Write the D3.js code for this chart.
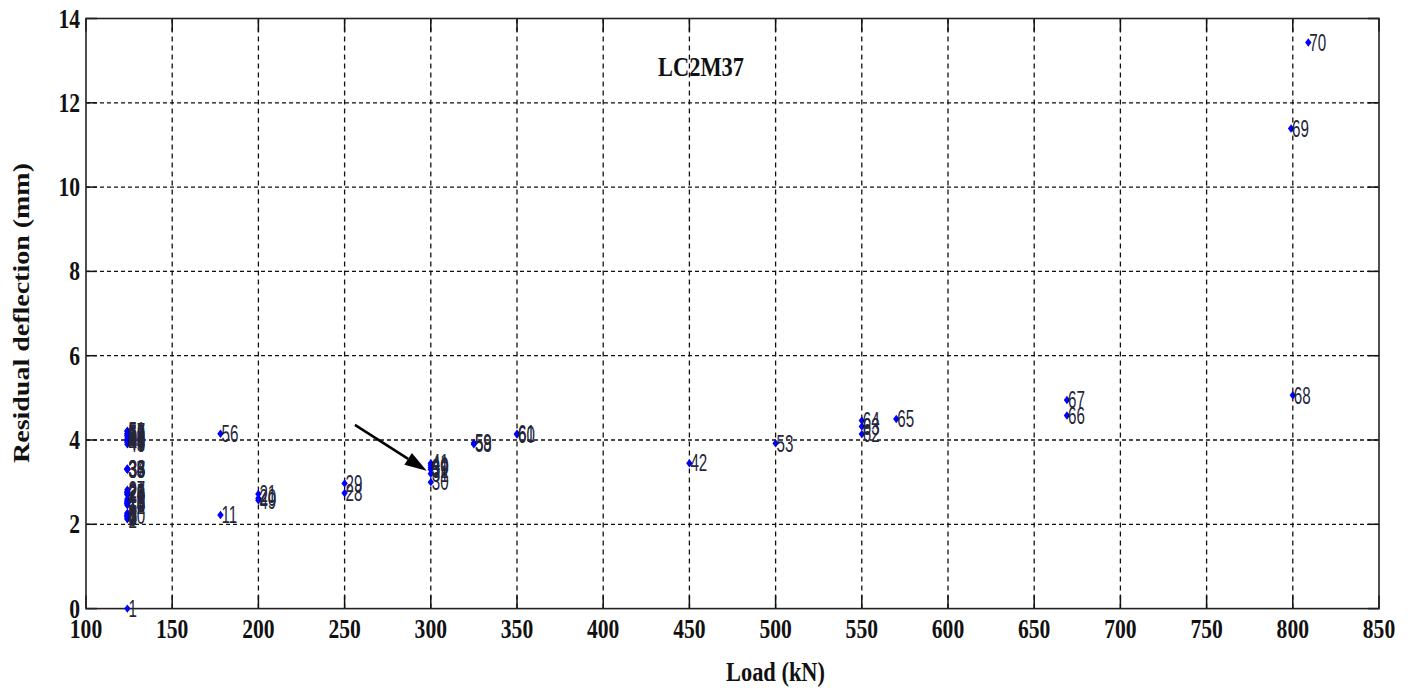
<!DOCTYPE html>
<html>
<head>
<meta charset="utf-8">
<script src="https://cdn.jsdelivr.net/npm/d3@7"></script>
<style>
  html, body { margin: 0; padding: 0; background: #fff; }
  svg { display: block; }
</style>
</head>
<body>
<svg id="chart" width="1413" height="688"></svg>
<script>
// ---- data ----
const chartTitle = "LC2M37";
const xLabel = "Load (kN)";
const yLabel = "Residual deflection (mm)";
const xTicks = [100, 150, 200, 250, 300, 350, 400, 450, 500, 550, 600, 650, 700, 750, 800, 850];
const yTicks = [0, 2, 4, 6, 8, 10, 12, 14];
const pointLabels = ["1","2","3","4","5","6","7","8","9","10",
  "11","12","13","14","15","16","17","18","19","20",
  "21","22","23","24","25","26","27","28","29","30",
  "31","32","33","34","35","36","37","38","39","40",
  "41","42","43","44","45","46","47","48","49","50",
  "51","52","53","54","55","56","57","58","59","60",
  "61","62","63","64","65","66","67","68","69","70"];
const loads = [124, 124, 124, 124, 124, 124, 124, 124, 124, 124,
  178, 124, 124, 124, 124, 124, 124, 124, 124, 200,
  200, 124, 124, 124, 124, 124, 124, 250, 250, 300,
  300, 300, 124, 124, 124, 124, 124, 124, 300, 300,
  300, 450, 124, 124, 124, 124, 124, 124, 200, 124,
  124, 124, 500, 124, 124, 178, 124, 325, 325, 350,
  350, 550, 550, 550, 570, 669, 669, 800, 799, 809];
const deflections = [0.00, 2.12, 2.15, 2.18, 2.20, 2.20, 2.22, 2.25, 2.27, 2.20,
  2.22, 2.45, 2.48, 2.50, 2.50, 2.52, 2.55, 2.55, 2.60, 2.62,
  2.72, 2.70, 2.72, 2.75, 2.75, 2.78, 2.82, 2.74, 2.97, 3.00,
  3.20, 3.30, 3.30, 3.32, 3.30, 3.32, 3.30, 3.32, 3.35, 3.40,
  3.45, 3.45, 3.90, 3.95, 4.00, 3.95, 4.00, 4.05, 2.57, 4.10,
  4.22, 4.15, 3.92, 4.10, 4.15, 4.15, 4.20, 3.90, 3.93, 4.13,
  4.15, 4.14, 4.32, 4.46, 4.50, 4.58, 4.95, 5.06, 11.39, 13.43];
// arrow annotation (data coordinates): from -> to
const arrowFrom = [256, 4.36];
const arrowTo = [297.6, 3.27];

// ---- layout ----
const svg = d3.select("#chart");
const L = 86, R = 1379, T = 18.5, B = 608.6;
const x = d3.scaleLinear().domain([100, 850]).range([L, R]);
const y = d3.scaleLinear().domain([0, 14]).range([B, T]);
const serif = "'Liberation Serif', 'Times New Roman', Times, serif";
const sans = "'Liberation Sans', Arial, Helvetica, sans-serif";

// grid
const grid = svg.append("g").attr("stroke", "#111").attr("stroke-width", 1.3).attr("fill", "none");
grid.selectAll("line.gx").data(xTicks.slice(1, -1)).join("line")
  .attr("x1", d => x(d)).attr("x2", d => x(d)).attr("y1", T).attr("y2", B)
  .attr("stroke-dasharray", "5,4");
grid.selectAll("line.gy").data(yTicks.slice(1, -1)).join("line")
  .attr("x1", L).attr("x2", R).attr("y1", d => y(d)).attr("y2", d => y(d))
  .attr("stroke-dasharray", "4,3");

// ticks (inward, all four sides)
const ticks = svg.append("g").attr("stroke", "#111").attr("stroke-width", 1.5);
xTicks.forEach(d => {
  ticks.append("line").attr("x1", x(d)).attr("x2", x(d)).attr("y1", B).attr("y2", B - 13);
  ticks.append("line").attr("x1", x(d)).attr("x2", x(d)).attr("y1", T).attr("y2", T + 13);
});
yTicks.forEach(d => {
  ticks.append("line").attr("x1", L).attr("x2", L + 11).attr("y1", y(d)).attr("y2", y(d));
  ticks.append("line").attr("x1", R).attr("x2", R - 11).attr("y1", y(d)).attr("y2", y(d));
});

// box
svg.append("rect").attr("x", L).attr("y", T).attr("width", R - L).attr("height", B - T)
  .attr("fill", "none").attr("stroke", "#222").attr("stroke-width", 1.6);

// tick labels
svg.append("g").selectAll("text").data(xTicks).join("text")
  .attr("transform", d => `translate(${x(d)},${B + 29}) scale(0.8,1)`)
  .attr("text-anchor", "middle")
  .attr("font-family", serif).attr("font-weight", "bold").attr("font-size", 27)
  .attr("fill", "#111")
  .text(d => d);
svg.append("g").selectAll("text").data(yTicks).join("text")
  .attr("transform", d => `translate(80,${y(d) + 9}) scale(0.8,1)`)
  .attr("text-anchor", "end")
  .attr("font-family", serif).attr("font-weight", "bold").attr("font-size", 27)
  .attr("fill", "#111")
  .text(d => d);

// axis titles
svg.append("text")
  .attr("transform", `translate(${(L + R) / 2 + 43},681) scale(0.83,1)`)
  .attr("text-anchor", "middle")
  .attr("font-family", serif).attr("font-weight", "bold").attr("font-size", 27)
  .attr("fill", "#111").text(xLabel);
svg.append("text")
  .attr("transform", `translate(29,313) scale(0.85,1) rotate(-90)`)
  .attr("text-anchor", "middle")
  .attr("font-family", serif).attr("font-weight", "bold").attr("font-size", 28)
  .attr("fill", "#111").text(yLabel);

// chart title
svg.append("text")
  .attr("transform", `translate(701,76) scale(0.8,1)`)
  .attr("text-anchor", "middle")
  .attr("font-family", serif).attr("font-weight", "bold").attr("font-size", 28)
  .attr("fill", "#111").text(chartTitle);

// points
const pts = loads.map((l, i) => ({ load: l, def: deflections[i], label: pointLabels[i] }));
const gp = svg.append("g");
gp.selectAll("path").data(pts).join("path")
  .attr("d", d => {
    const cx = x(d.load), cy = y(d.def);
    return `M${cx - 3.2},${cy} L${cx},${cy - 4.2} L${cx + 3.2},${cy} L${cx},${cy + 4.2} Z`;
  })
  .attr("fill", "#0000ff");
gp.selectAll("text").data(pts).join("text")
  .attr("transform", d => `translate(${x(d.load) + 1},${y(d.def)}) scale(0.66,1)`)
  .attr("dy", "0.36em")
  .attr("font-family", sans).attr("font-size", 23)
  .attr("fill", "#26263a")
  .text(d => d.label);

// arrow
const ax0 = x(arrowFrom[0]), ay0 = y(arrowFrom[1]);
const ax1 = x(arrowTo[0]), ay1 = y(arrowTo[1]);
const ang = Math.atan2(ay1 - ay0, ax1 - ax0);
const hl = 22, hw = 7;
const bx = ax1 - hl * Math.cos(ang), by = ay1 - hl * Math.sin(ang);
svg.append("line").attr("x1", ax0).attr("y1", ay0).attr("x2", bx).attr("y2", by)
  .attr("stroke", "#000").attr("stroke-width", 2.5);
svg.append("path")
  .attr("d", `M${ax1},${ay1} L${bx + hw * Math.sin(ang)},${by - hw * Math.cos(ang)} L${bx - hw * Math.sin(ang)},${by + hw * Math.cos(ang)} Z`)
  .attr("fill", "#000");
</script>
</body>
</html>
